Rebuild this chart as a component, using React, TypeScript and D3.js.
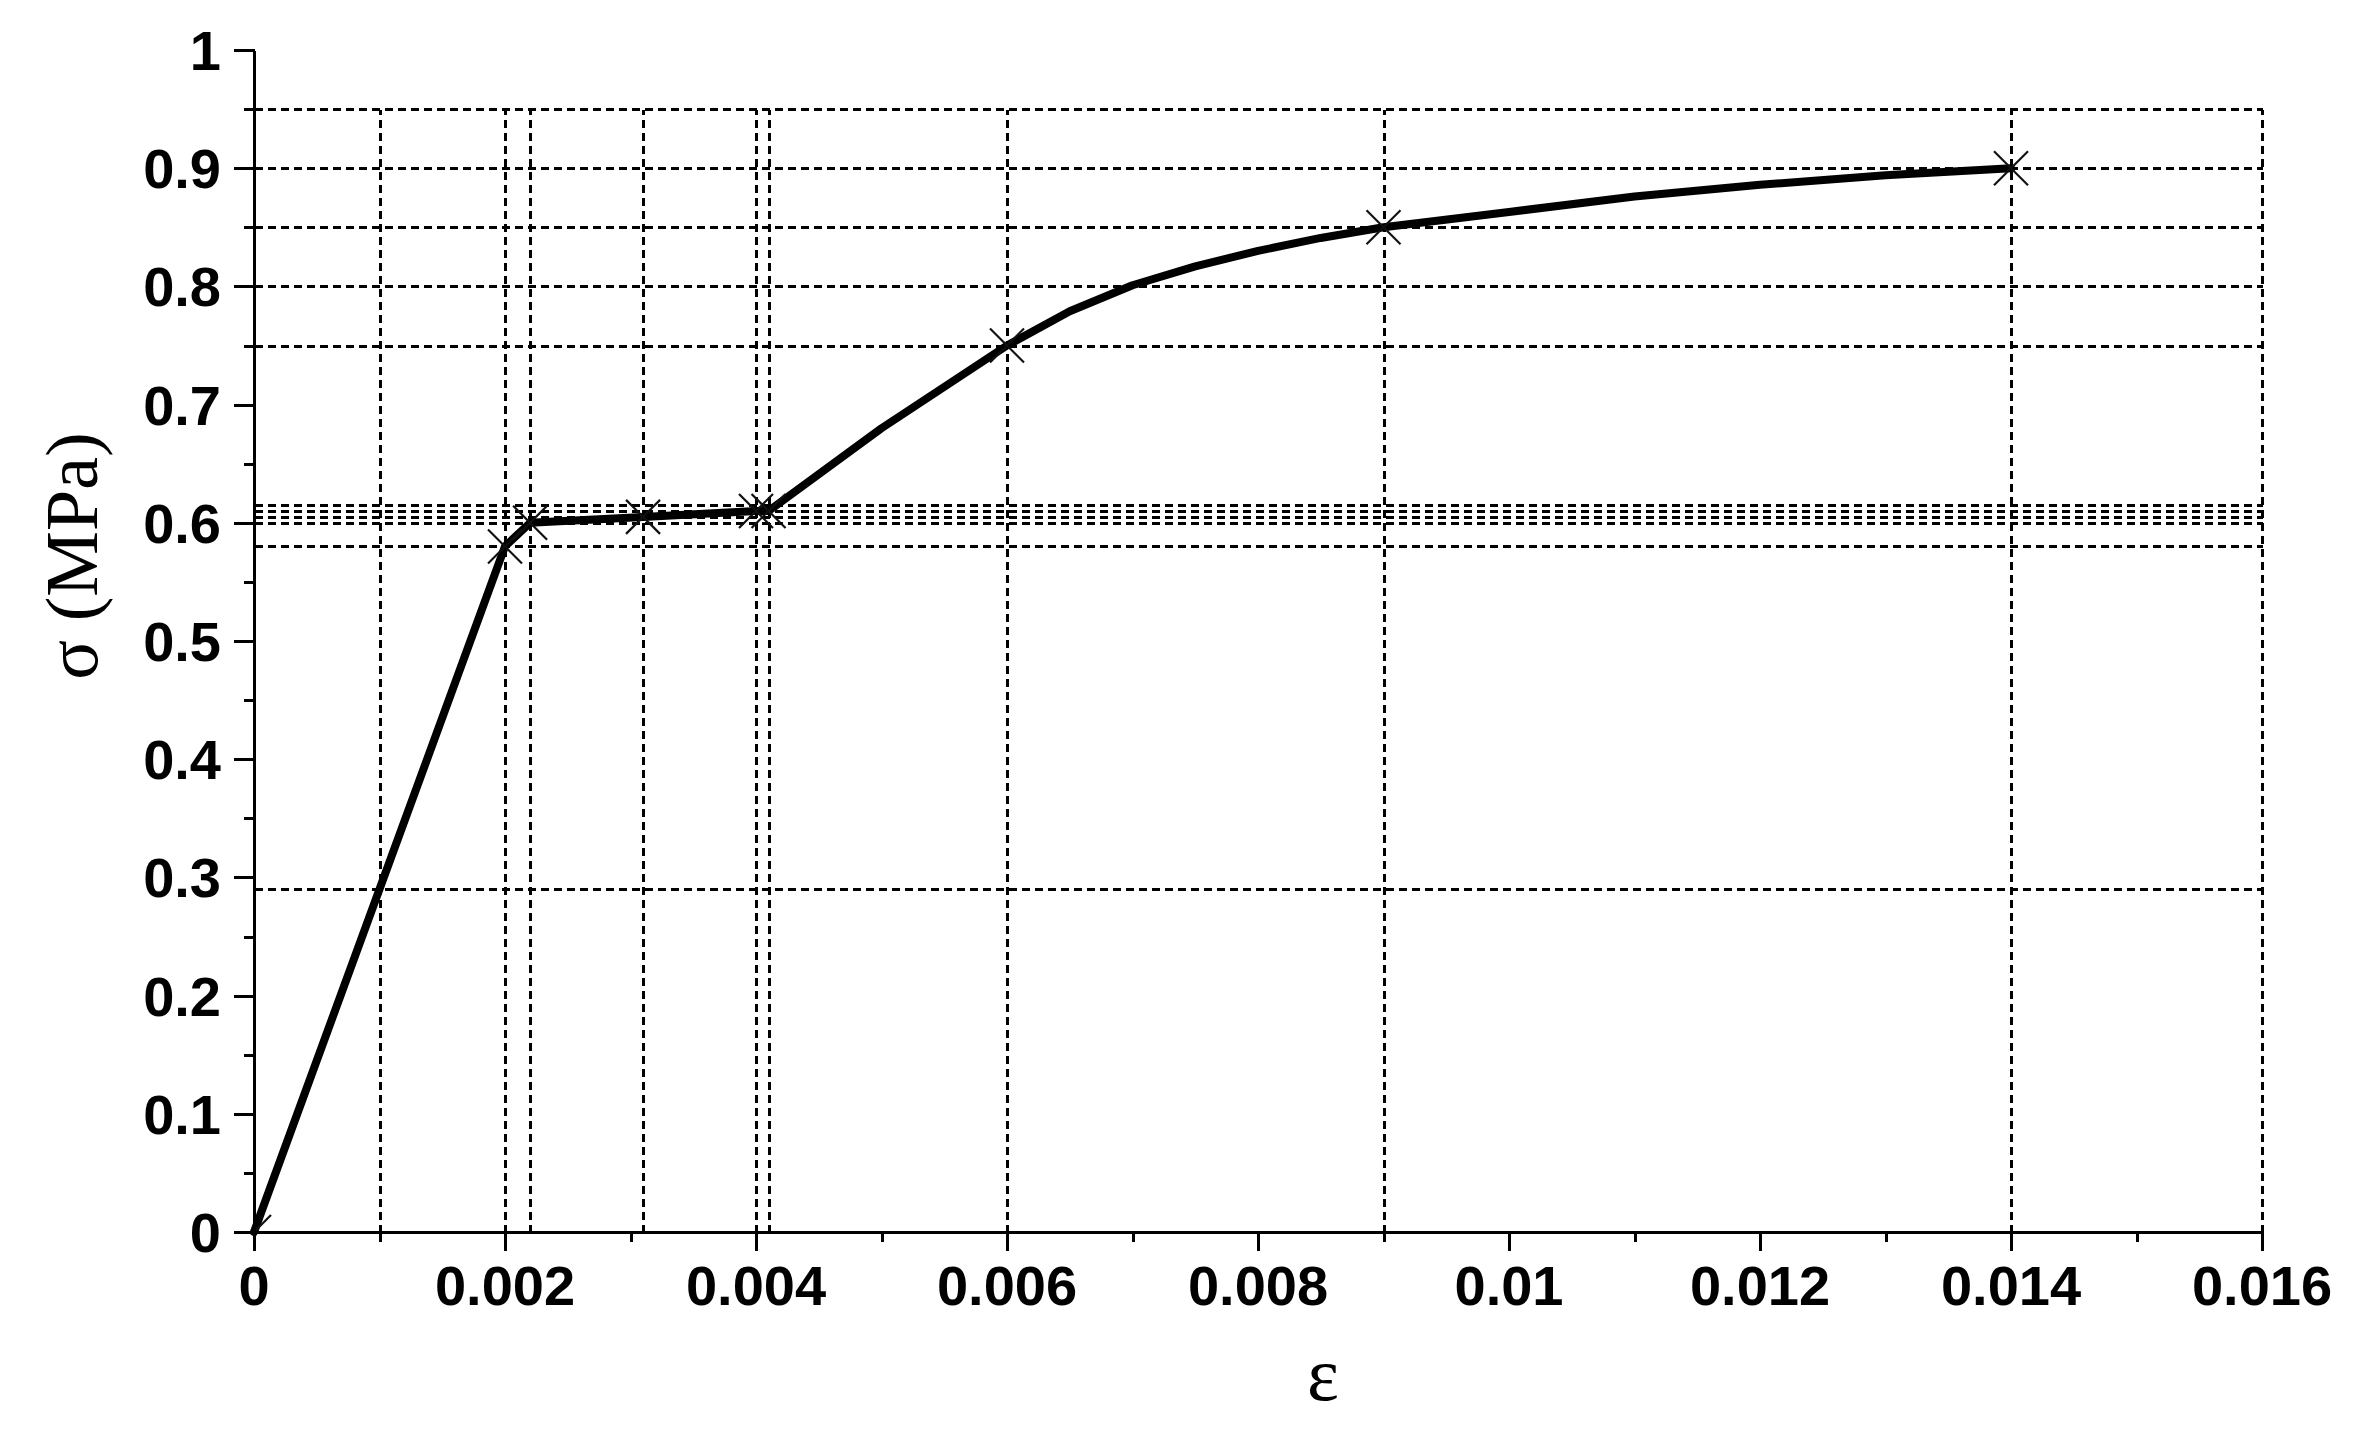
import React from "react";
import * as d3 from "d3";

// ---- data ----
const curveEps = [0, 0.002, 0.0022, 0.0031, 0.004, 0.0041, 0.005, 0.006, 0.0065, 0.007, 0.0075, 0.008, 0.0085, 0.009, 0.01, 0.011, 0.012, 0.013, 0.014];
const curveSigma = [0, 0.58, 0.6, 0.605, 0.61, 0.61, 0.68, 0.75, 0.779, 0.801, 0.817, 0.83, 0.841, 0.85, 0.863, 0.876, 0.886, 0.894, 0.9];

const markerEps = [0, 0.002, 0.0022, 0.0031, 0.004, 0.0041, 0.006, 0.009, 0.014];
const markerSigma = [0, 0.58, 0.6, 0.605, 0.61, 0.61, 0.75, 0.85, 0.9];

const gridSigma = [0.95, 0.9, 0.85, 0.8, 0.75, 0.615, 0.61, 0.605, 0.6, 0.58, 0.29];
const gridEps = [0.001, 0.002, 0.0022, 0.0031, 0.004, 0.0041, 0.006, 0.009, 0.014, 0.016];

const xMajorTicks = [0, 0.002, 0.004, 0.006, 0.008, 0.01, 0.012, 0.014, 0.016];
const xTickLabels = ["0", "0.002", "0.004", "0.006", "0.008", "0.01", "0.012", "0.014", "0.016"];
const xMinorTicks = [0.001, 0.003, 0.005, 0.007, 0.009, 0.011, 0.013, 0.015];
const yMajorTicks = [0, 0.1, 0.2, 0.3, 0.4, 0.5, 0.6, 0.7, 0.8, 0.9, 1];
const yTickLabels = ["0", "0.1", "0.2", "0.3", "0.4", "0.5", "0.6", "0.7", "0.8", "0.9", "1"];
const yMinorTicks = [0.05, 0.15, 0.25, 0.35, 0.45, 0.55, 0.65, 0.75, 0.85, 0.95];

const xLabel = "ε";
const yLabel = "σ (MPa)";

export default function App() {
  const W = 2375, H = 1448;
  const x = d3.scaleLinear().domain([0, 0.016]).range([254, 2262]);
  const y = d3.scaleLinear().domain([0, 1]).range([1232, 50]);
  const px = (v: number) => Math.round(x(v)) + 0.5;
  const py = (v: number) => Math.round(y(v)) + 0.5;
  const gridTop = py(0.95);
  const gridRight = px(0.016);

  const pts = curveEps.map((e, i) => [e, curveSigma[i]] as [number, number]);
  const line = d3.line<[number, number]>().x(d => x(d[0])).y(d => y(d[1]))(pts) || "";

  const ms = 17;
  const tickFont = "'Liberation Sans', Arial, sans-serif";
  const serif = "'Liberation Serif', 'Times New Roman', serif";

  return (
    <svg width={W} height={H} style={{ position: "absolute", left: 0, top: 0, background: "#fff" }}>
      <defs>
        <clipPath id="plotClip">
          <rect x={x(0)} y={y(1)} width={x(0.016) - x(0)} height={y(0) - y(1)} />
        </clipPath>
      </defs>
      <rect x={0} y={0} width={W} height={H} fill="#fff" />
      {/* grid */}
      <g stroke="#000" strokeWidth={3} strokeDasharray="8,5" fill="none" shapeRendering="crispEdges">
        {gridSigma.map((s, i) => (
          <line key={"h" + i} x1={px(0)} x2={gridRight} y1={py(s)} y2={py(s)} />
        ))}
        {gridEps.map((e, i) => (
          <line key={"v" + i} x1={px(e)} x2={px(e)} y1={py(0)} y2={gridTop} />
        ))}
      </g>
      {/* curve */}
      <path d={line} fill="none" stroke="#000" strokeWidth={8} strokeLinejoin="round" strokeLinecap="round" />
      {/* markers */}
      <g clipPath="url(#plotClip)" stroke="#111" strokeWidth={2.2}>
        {markerEps.map((e, i) => {
          const cx = x(e), cy = y(markerSigma[i]);
          return (
            <g key={"m" + i}>
              <line x1={cx - ms} y1={cy - ms} x2={cx + ms} y2={cy + ms} />
              <line x1={cx - ms} y1={cy + ms} x2={cx + ms} y2={cy - ms} />
            </g>
          );
        })}
      </g>
      {/* axes */}
      <g stroke="#000" strokeWidth={3} fill="none" shapeRendering="crispEdges">
        <line x1={px(0)} x2={px(0.016)} y1={py(0)} y2={py(0)} />
        <line x1={px(0)} x2={px(0)} y1={py(0)} y2={py(1)} />
        {xMajorTicks.map((t, i) => (
          <line key={"xt" + i} x1={px(t)} x2={px(t)} y1={py(0)} y2={py(0) + 18} />
        ))}
        {xMinorTicks.map((t, i) => (
          <line key={"xm" + i} x1={px(t)} x2={px(t)} y1={py(0)} y2={py(0) + 9} />
        ))}
        {yMajorTicks.map((t, i) => (
          <line key={"yt" + i} x1={px(0) - 21} x2={px(0)} y1={py(t)} y2={py(t)} />
        ))}
        {yMinorTicks.map((t, i) => (
          <line key={"ym" + i} x1={px(0) - 11} x2={px(0)} y1={py(t)} y2={py(t)} />
        ))}
      </g>
      <g fontFamily={tickFont} fontWeight="bold" fontSize={56} fill="#000">
        {xMajorTicks.map((t, i) => (
          <text key={"xl" + i} x={x(t)} y={y(0) + 73} textAnchor="middle">{xTickLabels[i]}</text>
        ))}
        {yMajorTicks.map((t, i) => (
          <text key={"yl" + i} x={x(0) - 33} y={y(t) + 20} textAnchor="end">{yTickLabels[i]}</text>
        ))}
      </g>
      <text x={1323} y={1400} textAnchor="middle" fontFamily={serif} fontSize={76} fill="#000">{xLabel}</text>
      <text transform={`translate(97,556) rotate(-90)`} textAnchor="middle" fontFamily={serif} fontSize={74} fill="#000">{yLabel}</text>
    </svg>
  );
}
